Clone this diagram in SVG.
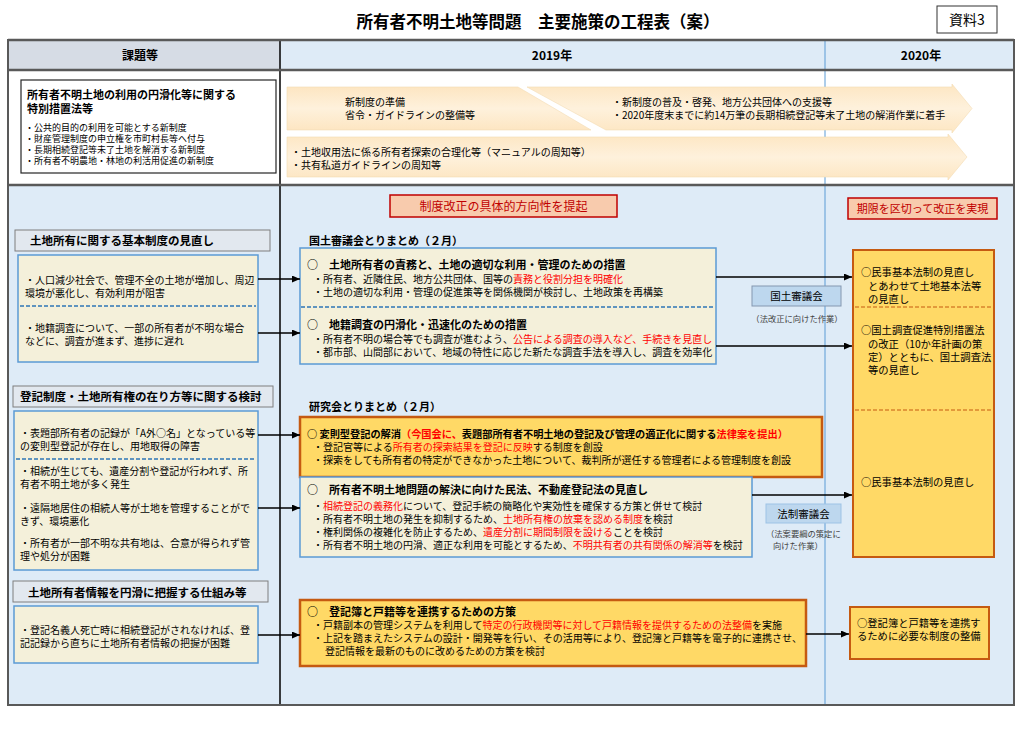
<svg xmlns="http://www.w3.org/2000/svg" width="1024" height="731" viewBox="0 0 1024 731">
<defs>
<style>
text{font-family:'Noto Sans CJK JP','Noto Sans CJK SC',sans-serif;fill:#000}
.b{font-weight:bold}
.r{fill:#ff0000}
.f10{font-size:10px}
.f9{font-size:9px}
.h11{font-size:11px;font-weight:bold}
.hl{font-size:11.5px;font-weight:bold}
.rt{font-size:10.3px}
.cream{fill:#f4f0da;stroke:#5b9bd5;stroke-width:1.5}
.org{fill:#ffd966;stroke:#c55a11;stroke-width:2.5}
.orgR{fill:#ffd966;stroke:#c55a11;stroke-width:2}
.hbox{fill:#e2e8ef;stroke:#7f7f7f;stroke-width:1}
.red{fill:#f8cbad;stroke:#c00000;stroke-width:1.5}
.dashB{stroke:#2e75b6;stroke-width:1.5;stroke-dasharray:4 2;fill:none}
.dashO{stroke:#c55a11;stroke-width:1;stroke-dasharray:4 2;fill:none}
.arr{fill:url(#peach);stroke:#f3dcb4;stroke-width:0.6}
.con{stroke:#000;stroke-width:1.5;fill:none}
.grid{stroke:#595959;fill:none}
</style>
<linearGradient id="peach" x1="0" y1="0" x2="0" y2="1">
<stop offset="0" stop-color="#fde6c2"/>
<stop offset="0.5" stop-color="#fef1dc"/>
<stop offset="1" stop-color="#fde6c2"/>
</linearGradient>
<marker id="ah" markerWidth="8" markerHeight="7" refX="8" refY="3.5" orient="auto" markerUnits="userSpaceOnUse"><path d="M0,0 L8,3.5 L0,7 z" fill="#000"/></marker>
</defs>
<rect width="1024" height="731" fill="#ffffff"/>

<g id="title">
<text x="538" y="28" class="b" font-size="16.5" text-anchor="middle">所有者不明土地等問題　主要施策の工程表（案）</text>
<rect x="937" y="6" width="60" height="27" fill="#fff" stroke="#333" stroke-width="1"/>
<text x="967" y="25" font-size="14" text-anchor="middle">資料3</text>
</g>

<g id="table">
<rect x="8" y="40" width="272" height="30" fill="#d6dce5"/>
<rect x="280" y="40" width="734" height="30" fill="#deebf7"/>
<rect x="8" y="70" width="1006" height="115" fill="#ffffff"/>
<rect x="8" y="185" width="1006" height="520" fill="#deebf7"/>
<line x1="825" y1="40" x2="825" y2="705" stroke="#5b9bd5" stroke-width="1"/>
<line x1="280" y1="40" x2="280" y2="705" stroke="#000" stroke-width="1.5"/>
<line x1="8" y1="40" x2="1014" y2="40" class="grid" stroke-width="2.5"/>
<line x1="8" y1="70" x2="1014" y2="70" class="grid" stroke-width="2.5"/>
<line x1="8" y1="185" x2="1014" y2="185" class="grid" stroke-width="2.5"/>
<rect x="8" y="40" width="1006" height="665" class="grid" stroke-width="2"/>
<text x="140" y="60" class="b" font-size="12" text-anchor="middle">課題等</text>
<text x="552" y="60" class="b" font-size="12" text-anchor="middle">2019年</text>
<text x="921" y="60" class="b" font-size="12" text-anchor="middle">2020年</text>
</g>

<g id="law-box">
<rect x="21" y="80" width="255" height="93" fill="#fff" stroke="#262626" stroke-width="1.2"/>
<text x="27" y="99" class="b" font-size="11">所有者不明土地の利用の円滑化等に関する</text>
<text x="27" y="113" class="b" font-size="11">特別措置法等</text>
<text x="25" y="131" class="f9">・公共的目的の利用を可能とする新制度</text>
<text x="25" y="142" class="f9">・財産管理制度の申立権を市町村長等へ付与</text>
<text x="25" y="153" class="f9">・長期相続登記等未了土地を解消する新制度</text>
<text x="25" y="164" class="f9">・所有者不明農地・林地の利活用促進の新制度</text>
</g>

<g id="arrow-new-system">
<polygon class="arr" points="287,87 518,87 591,130 287,130"/>
<polygon class="arr" points="527,87 952,87 952,84 972,108.5 952,133 952,130 606,130"/>
<text x="345" y="106" class="f10">新制度の準備</text>
<text x="345" y="119" class="f10">省令・ガイドラインの整備等</text>
<text x="612" y="106" class="f10">・新制度の普及・啓発、地方公共団体への支援等</text>
<text x="612" y="119" class="f10">・2020年度末までに約14万筆の長期相続登記等未了土地の解消作業に着手</text>
</g>

<g id="arrow-manual">
<polygon class="arr" points="287,137 948,137 948,134 967,157 948,180 948,177 287,177"/>
<text x="291" y="156" class="f10">・土地収用法に係る所有者探索の合理化等（マニュアルの周知等）</text>
<text x="291" y="169" class="f10">・共有私道ガイドラインの周知等</text>
</g>

<g id="label-2019">
<rect x="390" y="195" width="227" height="22" class="red"/>
<text x="503.5" y="210.5" font-size="12" text-anchor="middle" style="fill:#c00000">制度改正の具体的方向性を提起</text>
</g>
<g id="label-2020">
<rect x="848" y="198" width="149" height="21" class="red"/>
<text x="922.5" y="213" font-size="11" text-anchor="middle" style="fill:#c00000">期限を区切って改正を実現</text>
</g>

<g id="issue-1">
<rect x="15" y="230" width="255" height="21" class="hbox"/>
<text x="30" y="245" class="hl">土地所有に関する基本制度の見直し</text>
<rect x="18" y="255" width="240" height="107" class="cream"/>
<text x="25" y="284" class="f10">・人口減少社会で、管理不全の土地が増加し、周辺</text>
<text x="25" y="297" class="f10">環境が悪化し、有効利用が阻害</text>
<line x1="20" y1="306" x2="256" y2="306" class="dashB"/>
<text x="25" y="332" class="f10">・地籍調査について、一部の所有者が不明な場合</text>
<text x="25" y="345" class="f10">などに、調査が進まず、進捗に遅れ</text>
</g>

<g id="issue-2">
<rect x="13" y="386" width="260" height="21" class="hbox"/>
<text x="20" y="401" class="hl">登記制度・土地所有権の在り方等に関する検討</text>
<rect x="14" y="411" width="244" height="159" class="cream"/>
<text x="20" y="437" class="f10">・表題部所有者の記録が「A外○名」となっている等</text>
<text x="20" y="450" class="f10">の変則型登記が存在し、用地取得の障害</text>
<line x1="16" y1="459" x2="256" y2="459" class="dashB"/>
<text x="20" y="475" class="f10">・相続が生じても、遺産分割や登記が行われず、所</text>
<text x="20" y="488" class="f10">有者不明土地が多く発生</text>
<text x="20" y="512" class="f10">・遠隔地居住の相続人等が土地を管理することがで</text>
<text x="20" y="525" class="f10">きず、環境悪化</text>
<text x="20" y="547" class="f10">・所有者が一部不明な共有地は、合意が得られず管</text>
<text x="20" y="560" class="f10">理や処分が困難</text>
</g>

<g id="issue-3">
<rect x="13" y="581" width="255" height="21" class="hbox"/>
<text x="28" y="596.5" class="hl">土地所有者情報を円滑に把握する仕組み等</text>
<rect x="14" y="606" width="244" height="57" class="cream"/>
<text x="20" y="634" class="f10">・登記名義人死亡時に相続登記がされなければ、登</text>
<text x="20" y="647" class="f10">記記録から直ちに土地所有者情報の把握が困難</text>
</g>

<g id="kokudo-summary">
<text x="309" y="245" class="h11">国土審議会とりまとめ（２月）</text>
<rect x="300" y="248" width="416" height="116" class="cream"/>
<text x="307" y="269" class="h11">○　土地所有者の責務と、土地の適切な利用・管理のための措置</text>
<text x="313" y="283" class="f10">・所有者、近隣住民、地方公共団体、国等の<tspan class="r">責務と役割分担を明確化</tspan></text>
<text x="313" y="296" class="f10">・土地の適切な利用・管理の促進策等を関係機関が検討し、土地政策を再構築</text>
<line x1="301" y1="307" x2="715" y2="307" class="dashB"/>
<text x="307" y="329" class="h11">○　地籍調査の円滑化・迅速化のための措置</text>
<text x="313" y="343" class="f10">・所有者不明の場合等でも調査が進むよう、<tspan class="r">公告による調査の導入など、手続きを見直し</tspan></text>
<text x="313" y="356" class="f10">・都市部、山間部において、地域の特性に応じた新たな調査手法を導入し、調査を効率化</text>
</g>

<g id="kokudo-council">
<rect x="752" y="286" width="89" height="20" fill="#bdd7ee" stroke="#8497b0" stroke-width="1"/>
<text x="796.5" y="300" font-size="10.5" text-anchor="middle">国土審議会</text>
<text x="797" y="322" font-size="8.3" text-anchor="middle" style="fill:#404040">（法改正に向けた作業）</text>
</g>

<g id="kenkyukai-summary">
<text x="309" y="411" class="h11">研究会とりまとめ（２月）</text>
<rect x="300" y="417" width="522" height="60" class="org"/>
<text x="307" y="438" class="b" font-size="10.2">○ 変則型登記の解消<tspan class="r">（今国会に、</tspan>表題部所有者不明土地の登記及び管理の適正化に関する<tspan class="r">法律案を提出）</tspan></text>
<text x="313" y="451" class="f10">・登記官等による<tspan class="r">所有者の探索結果を登記に反映</tspan>する制度を創設</text>
<text x="313" y="464" class="f10">・探索をしても所有者の特定ができなかった土地について、裁判所が選任する管理者による管理制度を創設</text>
</g>

<g id="civil-law-review">
<rect x="300" y="477" width="452" height="80" class="cream"/>
<text x="307" y="494" class="h11">○　所有者不明土地問題の解決に向けた民法、不動産登記法の見直し</text>
<text x="313" y="510" class="f10">・<tspan class="r">相続登記の義務化</tspan>について、登記手続の簡略化や実効性を確保する方策と併せて検討</text>
<text x="313" y="523" class="f10">・所有者不明土地の発生を抑制するため、<tspan class="r">土地所有権の放棄を認める制度</tspan>を検討</text>
<text x="313" y="536" class="f10">・権利関係の複雑化を防止するため、<tspan class="r">遺産分割に期間制限を設ける</tspan>ことを検討</text>
<text x="313" y="549" class="f10">・所有者不明土地の円滑、適正な利用を可能とするため、<tspan class="r">不明共有者の共有関係の解消等</tspan>を検討</text>
</g>

<g id="hosei-council">
<rect x="766" y="504" width="75" height="19" fill="#bdd7ee" stroke="#9dc3e6" stroke-width="1"/>
<text x="803.5" y="517.5" font-size="10.5" text-anchor="middle">法制審議会</text>
<text x="766" y="537" font-size="8.3" style="fill:#404040">（法案要綱の策定に</text>
<text x="773" y="549" font-size="8.3" style="fill:#404040">向けた作業）</text>
</g>

<g id="koseki-link">
<rect x="300" y="600" width="506" height="66" class="org"/>
<text x="307" y="616" class="h11">○　登記簿と戸籍等を連携するための方策</text>
<text x="313" y="629" class="f10">・戸籍副本の管理システムを利用して<tspan class="r">特定の行政機関等に対して戸籍情報を提供するための法整備</tspan>を実施</text>
<text x="313" y="642" class="f10">・上記を踏まえたシステムの設計・開発等を行い、その活用等により、登記簿と戸籍等を電子的に連携させ、</text>
<text x="325" y="655" class="f10">登記情報を最新のものに改めるための方策を検討</text>
</g>

<g id="result-2020">
<rect x="853" y="250" width="141" height="307" class="orgR"/>
<text x="861" y="276" class="rt">○民事基本法制の見直し</text>
<text x="868" y="290" class="rt">とあわせて土地基本法等</text>
<text x="868" y="303" class="rt">の見直し</text>
<line x1="855" y1="307" x2="991" y2="307" class="dashO"/>
<text x="861" y="334" class="rt">○国土調査促進特別措置法</text>
<text x="868" y="348" class="rt">の改正（10か年計画の策</text>
<text x="868" y="361" class="rt">定）とともに、国土調査法</text>
<text x="868" y="374" class="rt">等の見直し</text>
<line x1="855" y1="410" x2="991" y2="410" class="dashO"/>
<text x="861" y="486" class="rt">○民事基本法制の見直し</text>
</g>

<g id="result-koseki">
<rect x="850" y="607" width="139" height="52" class="orgR"/>
<text x="857" y="627" class="rt">○登記簿と戸籍等を連携す</text>
<text x="857" y="640" class="rt">るために必要な制度の整備</text>
</g>

<g id="connectors">
<line x1="258" y1="279" x2="300" y2="279" class="con" marker-end="url(#ah)"/>
<line x1="258" y1="333" x2="300" y2="333" class="con" marker-end="url(#ah)"/>
<line x1="716" y1="277" x2="852" y2="277" class="con" marker-end="url(#ah)"/>
<line x1="716" y1="346" x2="852" y2="346" class="con" marker-end="url(#ah)"/>
<line x1="258" y1="435" x2="300" y2="435" class="con" marker-end="url(#ah)"/>
<line x1="258" y1="508" x2="300" y2="508" class="con" marker-end="url(#ah)"/>
<line x1="752" y1="495" x2="852" y2="495" class="con" marker-end="url(#ah)"/>
<line x1="258" y1="635" x2="300" y2="635" class="con" marker-end="url(#ah)"/>
<line x1="806" y1="634" x2="849" y2="634" class="con" marker-end="url(#ah)"/>
</g>
</svg>
